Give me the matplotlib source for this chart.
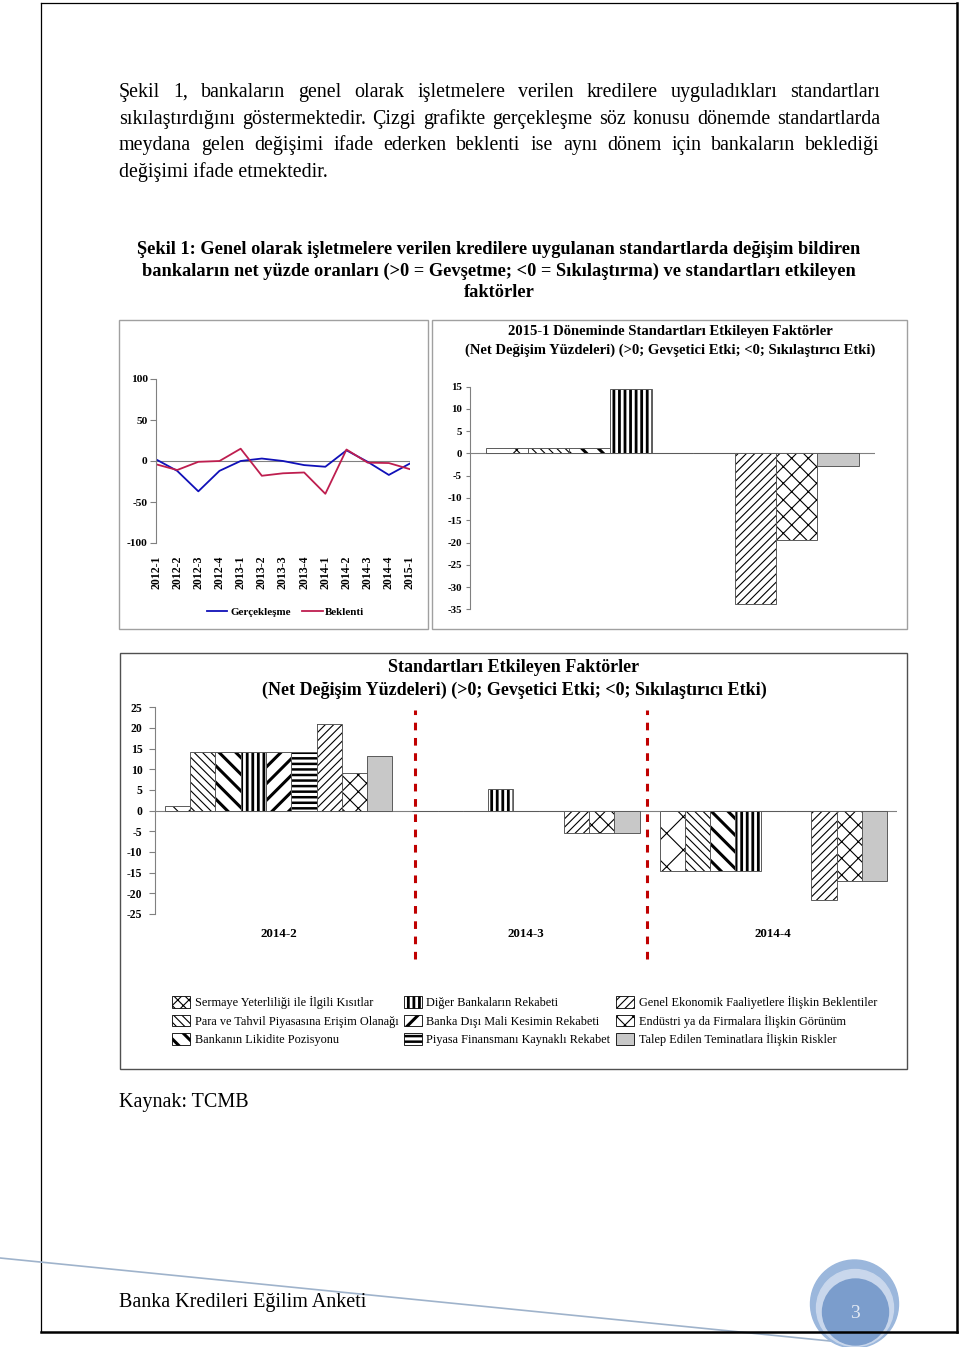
import numpy as np
import matplotlib
matplotlib.use('Agg')
import matplotlib.pyplot as plt
from matplotlib.patches import Rectangle, Circle, Patch

plt.rcParams['font.family'] = ['Liberation Serif', 'DejaVu Serif']
plt.rcParams['axes.unicode_minus'] = False

# Sekil 1 - cizgi grafik (net yuzde)
donemler = ['2012-1', '2012-2', '2012-3', '2012-4', '2013-1', '2013-2', '2013-3',
            '2013-4', '2014-1', '2014-2', '2014-3', '2014-4', '2015-1']
gerceklesme = [2, -12, -37, -12, 0, 3, 0, -5, -7, 13, -1, -17, -3]
beklenti = [-4, -11, -1, 0, 15, -18, -15, -14, -40, 14, -2, -2.5, -10]

# faktorler
faktorler = [
    'Sermaye Yeterliliği ile İlgili Kısıtlar',
    'Para ve Tahvil Piyasasına Erişim Olanağı',
    'Bankanın Likidite Pozisyonu',
    'Diğer Bankaların Rekabeti',
    'Banka Dışı Mali Kesimin Rekabeti',
    'Piyasa Finansmanı Kaynaklı Rekabet',
    'Genel Ekonomik Faaliyetlere İlişkin Beklentiler',
    'Endüstri ya da Firmalara İlişkin Görünüm',
    'Talep Edilen Teminatlara İlişkin Riskler',
]
desenler = ['x', '\\\\\\\\', '\\\\', '|||', '//', '---', '////', 'xx', '']
desen_kalinlik = [0.8, 0.8, 2.2, 2.0, 2.2, 1.8, 0.8, 0.8, 0.0]
renkler = ['white'] * 8 + ['#C8C8C8']

# 2015-1 donemi
son_donem = [1.3, 1.3, 1.3, 14.5, 0, 0, -33.8, -19.4, -2.9]

# onceki donemler
onceki_donemler = ['2014-2', '2014-3', '2014-4']
d_2014_2 = [1.2, 14.3, 14.3, 14.3, 14.3, 14.3, 21.0, 9.0, 13.3]
d_2014_3 = [0, 0, 0, 5.3, 0, 0, -5.3, -5.3, -5.3]
d_2014_4 = [-14.7, -14.7, -14.7, -14.7, 0, 0, -21.7, -16.9, -16.9]

W, H = 960, 1347
GRI = '#808080'


def fx(px):
    return px / W


def fy(py):
    return 1 - py / H


def hatch_lw(patch, lw):
    if hasattr(patch, 'set_hatch_linewidth'):
        patch.set_hatch_linewidth(lw)
    else:
        orig = patch.draw

        def draw(renderer, orig=orig, lw=lw):
            with plt.rc_context({'hatch.linewidth': lw}):
                orig(renderer)
        patch.draw = draw


def eksen_duzen(ax, tick_len, pad, size):
    for s in ['top', 'right', 'bottom']:
        ax.spines[s].set_visible(False)
    ax.spines['left'].set_color(GRI)
    ax.spines['left'].set_linewidth(0.8)
    ax.tick_params(axis='y', direction='out', length=tick_len, width=0.8,
                   color=GRI, pad=pad, labelsize=size)
    for lb in ax.get_yticklabels():
        lb.set_fontweight('bold')
    ax.axhline(0, color=GRI, lw=0.8, zorder=1)
    ax.set_facecolor('none')


fig = plt.figure(figsize=(W / 100, H / 100), dpi=100)

# sayfa katmani (piksel koordinatlari)
page = fig.add_axes([0, 0, 1, 1], zorder=0)
page.set_xlim(0, W)
page.set_ylim(H, 0)
page.axis('off')

renderer = fig.canvas.get_renderer()


def yasla(words, x0, x1, y, size):
    texts = [page.text(x0, y, w, fontsize=size, va='baseline', ha='left')
             for w in words]
    widths = [t.get_window_extent(renderer).width for t in texts]
    gap = (x1 - x0 - sum(widths)) / (len(words) - 1)
    x = x0
    for t, wd in zip(texts, widths):
        t.set_x(x)
        x += wd + gap


paragraf = [
    'Şekil 1, bankaların genel olarak işletmelere verilen kredilere uyguladıkları standartları',
    'sıkılaştırdığını göstermektedir. Çizgi grafikte gerçekleşme söz konusu dönemde standartlarda',
    'meydana gelen değişimi ifade ederken beklenti ise aynı dönem için bankaların beklediği',
]
for k, satir in enumerate(paragraf):
    yasla(satir.split(), 119, 880, 97 + 26.7 * k, 14.4)
page.text(119, 97 + 26.7 * 3, 'değişimi ifade etmektedir.', fontsize=14.4,
          va='baseline')

baslik = ['Şekil 1: Genel olarak işletmelere verilen kredilere uygulanan standartlarda değişim bildiren',
          'bankaların net yüzde oranları (>0 = Gevşetme; <0 = Sıkılaştırma) ve standartları etkileyen',
          'faktörler']
for k, satir in enumerate(baslik):
    page.text(499, 254 + 21.5 * k, satir, fontsize=13.2, fontweight='bold',
              ha='center', va='baseline')

# grafik cerceveleri
page.add_patch(Rectangle((119, 320), 309, 309, fill=False, ec='#A0A0A0', lw=1))
page.add_patch(Rectangle((432, 320), 475, 309, fill=False, ec='#A0A0A0', lw=1))
page.add_patch(Rectangle((120, 653), 787, 416, fill=False, ec='#505050', lw=1))

# sayfa kenarlari
page.plot([41, 41], [3, 1332], color='black', lw=0.9)
page.plot([41, 957], [3, 3], color='black', lw=0.9)
page.plot([957, 957], [3, 1332], color='black', lw=1.8)

# alt bilgi
page.plot([0, 850], [1258, 1343], color='#9FB3CB', lw=1.2)
page.add_patch(Circle((854.5, 1304), 44, color='#9BB7DC', zorder=3))
page.add_patch(Circle((855, 1308), 38.5, color='#C9D7EC', zorder=3))
page.add_patch(Circle((855.5, 1312), 33, color='#7B9DCC', zorder=3))
page.text(855, 1313, '3', fontsize=14, color='#E3EAF4', ha='center',
          va='center', zorder=4)
page.plot([41, 957], [1332, 1332], color='black', lw=1.8, zorder=5)
page.text(119, 1303, 'Banka Kredileri Eğilim Anketi', fontsize=14.5,
          va='center')
page.text(119, 1103, 'Kaynak: TCMB', fontsize=14.5, va='center')

# cizgi grafik
ax1 = fig.add_axes([fx(156), fy(543), fx(410) - fx(156), fy(379) - fy(543)],
                   zorder=1)
x = np.arange(len(donemler))
ax1.plot(x, gerceklesme, color='#1010B8', lw=1.3, label='Gerçekleşme')
ax1.plot(x, beklenti, color='#BE1E4F', lw=1.3, label='Beklenti')
ax1.set_xlim(0, len(donemler) - 1)
ax1.set_ylim(-100, 100)
ax1.set_yticks([-100, -50, 0, 50, 100])
ax1.set_xticks(x)
ax1.set_xticklabels(donemler, rotation=90, fontsize=8.6, fontweight='bold')
ax1.tick_params(axis='x', length=0, pad=9)
eksen_duzen(ax1, 4, 2, 8.2)
ax1.legend(loc='center', bbox_to_anchor=(fx(285.5), fy(611.7)),
           bbox_transform=fig.transFigure, ncol=2, frameon=False,
           handlelength=1.9, handletextpad=0.25, columnspacing=1.0,
           borderpad=0, borderaxespad=0, prop={'weight': 'bold', 'size': 7.9})

# 2015-1 faktor grafigi
ax2 = fig.add_axes([fx(470), fy(609.3), fx(875) - fx(470), fy(386.7) - fy(609.3)],
                   zorder=1)
genislik = 0.92 / 9
for i in range(len(faktorler)):
    cont = ax2.bar((i - 4) * genislik, son_donem[i], width=genislik,
                   color=renkler[i], edgecolor='black', linewidth=0,
                   hatch=desenler[i] or None, zorder=2)
    for p in cont.patches:
        hatch_lw(p, desen_kalinlik[i])
    ax2.bar((i - 4) * genislik, son_donem[i], width=genislik, fill=False,
            edgecolor='#5a5a5a', linewidth=0.7, zorder=3)
ax2.set_xlim(-0.5, 0.5)
ax2.set_ylim(-35, 15)
ax2.set_yticks(np.arange(-35, 16, 5))
ax2.set_xticks([])
eksen_duzen(ax2, 3, 3, 7.8)
page.text(670, 332, '2015-1 Döneminde Standartları Etkileyen Faktörler',
          fontsize=10.5, fontweight='bold', ha='center', va='center')
page.text(670, 350, '(Net Değişim Yüzdeleri) (>0; Gevşetici Etki; <0; Sıkılaştırıcı Etki)',
          fontsize=10.5, fontweight='bold', ha='center', va='center')

# onceki donemler faktor grafigi
ax3 = fig.add_axes([fx(155), fy(914), fx(897) - fx(155), fy(707.3) - fy(914)],
                   zorder=1)
xd = np.arange(len(onceki_donemler))
for i in range(len(faktorler)):
    degerler = [d_2014_2[i], d_2014_3[i], d_2014_4[i]]
    cont = ax3.bar(xd + (i - 4) * genislik, degerler, width=genislik,
                   color=renkler[i], edgecolor='black', linewidth=0,
                   hatch=desenler[i] or None, zorder=2)
    for p in cont.patches:
        hatch_lw(p, desen_kalinlik[i])
    ax3.bar(xd + (i - 4) * genislik, degerler, width=genislik, fill=False,
            edgecolor='#5a5a5a', linewidth=0.7, zorder=3)
ax3.set_xlim(-0.5, len(onceki_donemler) - 0.5)
ax3.set_ylim(-25, 25)
ax3.set_yticks(np.arange(-25, 26, 5))
ax3.set_xticks(xd)
ax3.set_xticklabels(onceki_donemler, fontsize=9.4, fontweight='bold')
ax3.tick_params(axis='x', length=0, pad=10)
eksen_duzen(ax3, 4, 5, 8.4)
for xs in [0.551, 1.489]:
    ax3.axvline(xs, ymin=-0.22, ymax=0.985, color='#C00000', lw=2.2,
                ls=(0, (2.5, 2.5)), clip_on=False, zorder=4)
page.text(514, 668, 'Standartları Etkileyen Faktörler', fontsize=13,
          fontweight='bold', ha='center', va='center')
page.text(514, 690, '(Net Değişim Yüzdeleri) (>0; Gevşetici Etki; <0; Sıkılaştırıcı Etki)',
          fontsize=13, fontweight='bold', ha='center', va='center')

lejant_desen = ['xxx'] + desenler[1:]
tutamaklar = [Patch(facecolor=renkler[i], edgecolor='black', lw=0.6,
                    hatch=lejant_desen[i] or None, label=faktorler[i])
              for i in range(len(faktorler))]
leg = fig.legend(handles=tutamaklar, loc='upper left',
                 bbox_to_anchor=(fx(172), fy(996)), ncol=3, frameon=False,
                 borderpad=0, borderaxespad=0, handlelength=1.5,
                 handleheight=1.1, handletextpad=0.35, columnspacing=0.45,
                 labelspacing=0.45, fontsize=8.8)
for i, p in enumerate(leg.get_patches()):
    hatch_lw(p, desen_kalinlik[i])

fig.savefig('out.png', dpi=100)
